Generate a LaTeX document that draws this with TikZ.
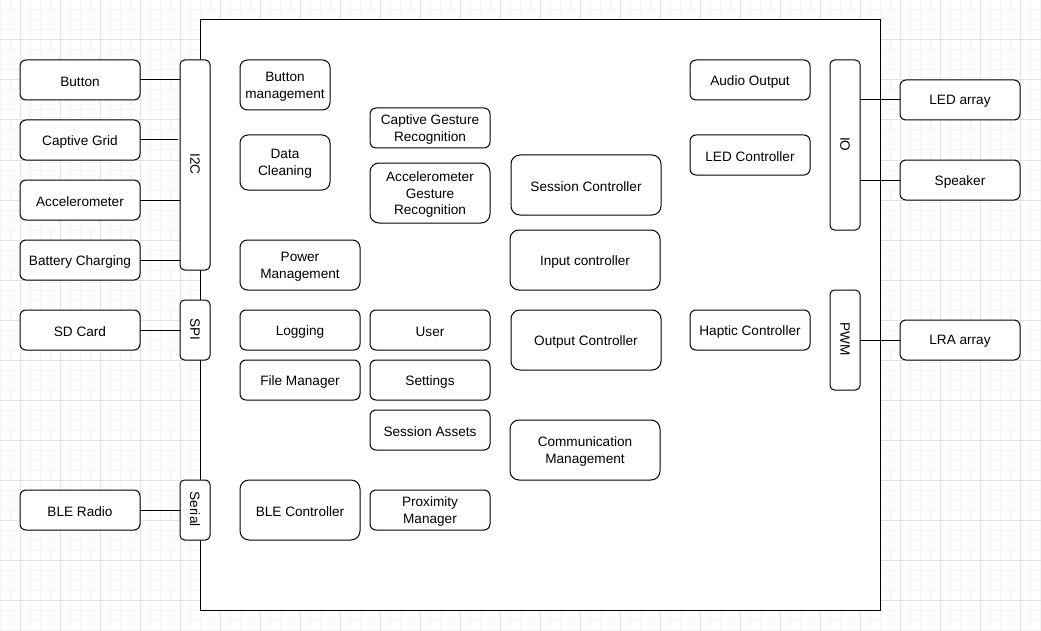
\documentclass[tikz,border=0pt]{standalone}
\usepackage{fontspec}
\setmainfont{Liberation Sans}
\definecolor{gridminor}{HTML}{F4F4F4}
\definecolor{gridmajor}{HTML}{E2E2E2}
\tikzset{
  box/.style={draw=black, line width=0.75pt, fill=white, inner sep=0pt, outer sep=0pt},
  boxtext/.style={align=center, font=\fontsize{10.2}{12.6}\selectfont, inner sep=0pt, yshift=-1.2pt},
  wire/.style={draw=black, line width=0.75pt},
}
\newcommand\mybox[7]{%
  \node[box, rounded corners=#6, minimum width={(#4-#2)*0.75pt}, minimum height={(#5-#3)*0.75pt},
    label={[boxtext]center:#7}]
    (#1) at ({(#2+#4)/2},{(#3+#5)/2}) {};}
\begin{document}
\begin{tikzpicture}[x=0.75pt,y=-0.75pt]
\useasboundingbox (0,0) rectangle (1041,631);
\fill[white] (0,0) rectangle (1041,631);
% grid
\foreach \x in {0,10,...,1040} \draw[gridminor, line width=0.75pt] (\x,0) -- (\x,631);
\foreach \y in {0,10,...,630} \draw[gridminor, line width=0.75pt] (0,\y) -- (1041,\y);
\foreach \x in {20,60,...,1020} \draw[gridmajor, line width=0.75pt] (\x,0) -- (\x,631);
\foreach \y in {0,40,...,630} \draw[gridmajor, line width=0.75pt] (0,\y) -- (1041,\y);
% main box
\node[draw=black, line width=0.75pt, fill=white, inner sep=0pt, outer sep=0pt,
  minimum width={680*0.75pt}, minimum height={590*0.75pt}] (main) at (540,315) {};
% external devices
\mybox{button}{20}{60}{140}{100}{4.5pt}{Button}
\mybox{captive}{20}{120}{140}{160}{4.5pt}{Captive Grid}
\mybox{accel}{20}{180}{140}{220}{4.5pt}{Accelerometer}
\mybox{battery}{20}{240}{140}{280}{4.5pt}{Battery Charging}
\mybox{sdcard}{20}{310}{140}{350}{4.5pt}{SD Card}
\mybox{bleradio}{20}{490}{140}{530}{4.5pt}{BLE Radio}
% buses
\mybox{i2c}{180}{60}{210}{270}{3.4pt}{}
\mybox{spi}{180}{300}{210}{360}{3.4pt}{}
\mybox{serial}{180}{480}{210}{540}{3.4pt}{}
\node[rotate=-90, font=\fontsize{10.2}{12.6}\selectfont, xshift=-0.6pt] (i2ct) at (i2c) {I2C};
\node[rotate=-90, font=\fontsize{10.2}{12.6}\selectfont, xshift=-0.6pt] (spit) at (spi) {SPI};
\node[rotate=-90, font=\fontsize{10.2}{12.6}\selectfont, xshift=-0.6pt] (serialt) at (serial) {Serial};
% internal modules, column 1
\mybox{btnmgmt}{240}{60}{330}{110}{5.6pt}{Button\\management}
\mybox{datacl}{240}{135}{330}{190}{6pt}{Data\\Cleaning}
\mybox{power}{240}{240}{360}{290}{5.6pt}{Power\\Management}
\mybox{logging}{240}{310}{360}{350}{4.5pt}{Logging}
\mybox{fileman}{240}{360}{360}{400}{4.5pt}{File Manager}
\mybox{blectl}{240}{480}{360}{540}{6.75pt}{BLE Controller}
% column 2
\mybox{capgest}{370}{108}{490}{148}{4.5pt}{Captive Gesture\\Recognition}
\mybox{accgest}{370}{163}{490}{223}{6.75pt}{Accelerometer\\Gesture\\Recognition}
\mybox{user}{370}{310}{490}{350}{4.5pt}{User}
\mybox{settings}{370}{360}{490}{400}{4.5pt}{Settings}
\mybox{assets}{370}{410}{490}{450}{4.5pt}{Session Assets}
\mybox{prox}{370}{490}{490}{530}{4.5pt}{Proximity\\Manager}
% column 3
\mybox{sessctl}{511}{155}{661}{215}{6.75pt}{Session Controller}
\mybox{inputctl}{510}{230}{660}{290}{6.75pt}{Input controller}
\mybox{outctl}{511}{310}{661}{370}{6.75pt}{Output Controller}
\mybox{comm}{510}{420}{660}{480}{6.75pt}{Communication\\Management}
% column 4
\mybox{audio}{690}{60}{810}{100}{4.5pt}{Audio Output}
\mybox{ledctl}{690}{135}{810}{175}{4.5pt}{LED Controller}
\mybox{haptic}{690}{310}{810}{350}{4.5pt}{Haptic Controller}
% right buses
\mybox{io}{830}{60}{860}{230}{3.4pt}{}
\mybox{pwm}{830}{290}{860}{390}{3.4pt}{}
\node[rotate=-90, font=\fontsize{10.2}{12.6}\selectfont, xshift=-0.6pt] (iot) at (io) {IO};
\node[rotate=-90, font=\fontsize{10.2}{12.6}\selectfont, xshift=-0.6pt] (pwmt) at (pwm) {PWM};
% right devices
\mybox{ledarr}{900}{80}{1020}{120}{4.5pt}{LED array}
\mybox{speaker}{900}{160}{1020}{200}{4.5pt}{Speaker}
\mybox{lra}{900}{320}{1020}{360}{4.5pt}{LRA array}
% connectors
\draw[wire] (button.east) -- (button.east -| i2c.west);
\draw[wire] (captive.east) -- ([xshift=-1.5pt]captive.east -| i2c.west);
\draw[wire] (accel.east) -- (accel.east -| i2c.west);
\draw[wire] (battery.east) -- (battery.east -| i2c.west);
\draw[wire] (sdcard.east) -- (sdcard.east -| spi.west);
\draw[wire] (bleradio.east) -- (bleradio.east -| serial.west);
\draw[wire] (ledarr.west) -- (ledarr.west -| io.east);
\draw[wire] (speaker.west) -- (speaker.west -| io.east);
\draw[wire] (lra.west) -- (lra.west -| pwm.east);
\end{tikzpicture}
\end{document}
